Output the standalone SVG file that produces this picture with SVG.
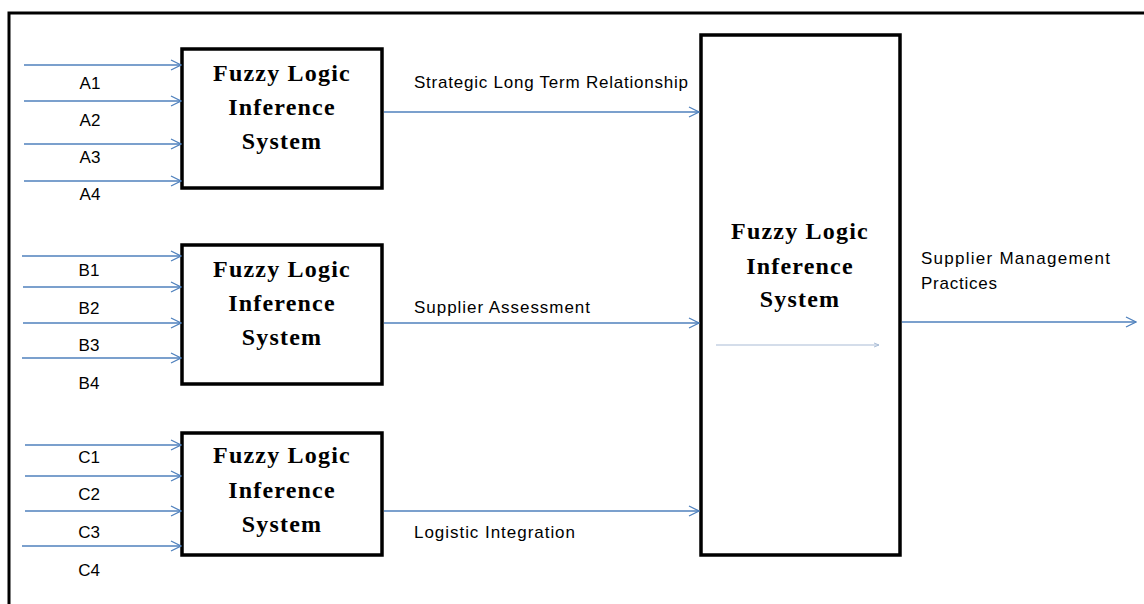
<svg xmlns="http://www.w3.org/2000/svg" width="1144" height="604" viewBox="0 0 1144 604">
  <style>
    .frame { fill: none; stroke: #000; stroke-width: 3; }
    .box { fill: #fff; stroke: #000; stroke-width: 3.5; }
    .title { font-family: "Liberation Serif", "Times New Roman", serif; font-weight: bold; font-size: 24px; fill: #000; text-anchor: middle; letter-spacing: 1.2px; }
    .lbl { font-family: "Liberation Sans", Arial, sans-serif; font-size: 17px; fill: #000; }
    .in { text-anchor: middle; }
    .wire { stroke: #4f81bd; stroke-width: 1.3; fill: none; marker-end: url(#head); }
    .thin { stroke: #a9bcd6; stroke-width: 1.2; fill: none; marker-end: url(#headThin); }
  </style>
  <defs>
    <marker id="head" viewBox="0 0 12 12" refX="11" refY="6" markerWidth="12" markerHeight="12" markerUnits="userSpaceOnUse" orient="auto">
      <path d="M1,1 L11,6 L1,11" fill="none" stroke="#4f81bd" stroke-width="1.3"/>
    </marker>
    <marker id="headThin" viewBox="0 0 6 6" refX="5.5" refY="3" markerWidth="6" markerHeight="6" markerUnits="userSpaceOnUse" orient="auto">
      <path d="M0.5,1 L5.5,3 L0.5,5" fill="none" stroke="#a9bcd6" stroke-width="1"/>
    </marker>
  </defs>

  <!-- outer frame: top and left edges -->
  <path class="frame" d="M9,604 V13 H1144"/>

  <!-- input labels -->
  <g id="inputs-a" class="lbl in">
    <text x="90" y="89">A1</text>
    <text x="90" y="126">A2</text>
    <text x="90" y="163">A3</text>
    <text x="90" y="200">A4</text>
  </g>
  <g id="inputs-b" class="lbl in">
    <text x="89" y="276">B1</text>
    <text x="89" y="314">B2</text>
    <text x="89" y="351">B3</text>
    <text x="89" y="389">B4</text>
  </g>
  <g id="inputs-c" class="lbl in">
    <text x="89" y="463">C1</text>
    <text x="89" y="500">C2</text>
    <text x="89" y="538">C3</text>
    <text x="89" y="576">C4</text>
  </g>

  <!-- first-level inference blocks -->
  <g id="fis-a">
    <rect class="box" x="182" y="49" width="200" height="139"/>
    <text class="title" x="282" y="81">Fuzzy Logic</text>
    <text class="title" x="282" y="115">Inference</text>
    <text class="title" x="282" y="149">System</text>
  </g>
  <g id="fis-b">
    <rect class="box" x="182" y="245" width="200" height="139"/>
    <text class="title" x="282" y="277">Fuzzy Logic</text>
    <text class="title" x="282" y="311">Inference</text>
    <text class="title" x="282" y="345">System</text>
  </g>
  <g id="fis-c">
    <rect class="box" x="182" y="433" width="200" height="122"/>
    <text class="title" x="282" y="463">Fuzzy Logic</text>
    <text class="title" x="282" y="498">Inference</text>
    <text class="title" x="282" y="532">System</text>
  </g>

  <!-- intermediate output labels -->
  <g id="mid-labels" class="lbl">
    <text x="414" y="88" textLength="274" lengthAdjust="spacing">Strategic Long Term Relationship</text>
    <text x="414" y="313" textLength="176" lengthAdjust="spacing">Supplier Assessment</text>
    <text x="414" y="538" textLength="161" lengthAdjust="spacing">Logistic Integration</text>
  </g>

  <!-- final inference block -->
  <g id="fis-final">
    <rect class="box" x="701" y="35" width="199" height="520"/>
    <text class="title" x="800" y="239">Fuzzy Logic</text>
    <text class="title" x="800" y="274">Inference</text>
    <text class="title" x="800" y="307">System</text>
  </g>

  <!-- final output label -->
  <g id="result" class="lbl">
    <text x="921" y="264" textLength="189" lengthAdjust="spacing">Supplier Management</text>
    <text x="921" y="289" textLength="76" lengthAdjust="spacing">Practices</text>
  </g>

  <!-- connectors, drawn last so the inner arrow sits above the box fill -->
  <g id="connectors">
    <path class="wire" d="M24,65 H181"/>
    <path class="wire" d="M24,101 H181"/>
    <path class="wire" d="M24,144 H181"/>
    <path class="wire" d="M24,181 H181"/>

    <path class="wire" d="M22,256 H181"/>
    <path class="wire" d="M23,287 H181"/>
    <path class="wire" d="M23,323 H181"/>
    <path class="wire" d="M22,358 H181"/>

    <path class="wire" d="M25,445 H181"/>
    <path class="wire" d="M25,476 H181"/>
    <path class="wire" d="M25,511 H181"/>
    <path class="wire" d="M22,546 H181"/>

    <path class="wire" d="M384,112 H699"/>
    <path class="wire" d="M384,323 H699"/>
    <path class="wire" d="M384,511 H699"/>

    <path class="wire" d="M902,322 H1136"/>
    <path class="thin" d="M716,345 H879"/>
  </g>
</svg>
